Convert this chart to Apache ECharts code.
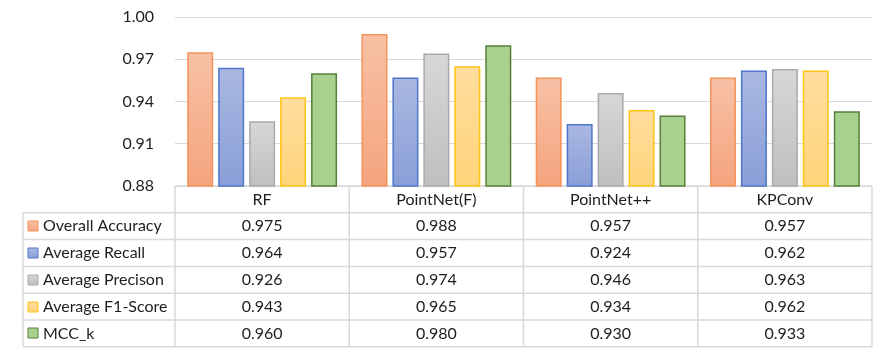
<!DOCTYPE html>
<html>
<head>
<meta charset="utf-8">
<script src="https://cdn.jsdelivr.net/npm/echarts@6/dist/echarts.min.js"></script>
<style>
  html, body { margin: 0; padding: 0; background: #fff; }
  #chart { width: 886px; height: 354px; }
</style>
</head>
<body>
<div id="chart"></div>
<script>
// 数据
const models = ['RF', 'PointNet(F)', 'PointNet++', 'KPConv']
const metrics = ['Overall Accuracy', 'Average Recall', 'Average Precison', 'Average F1-Score', 'MCC_k']
const overallAccuracy = [0.975, 0.988, 0.957, 0.957]
const averageRecall = [0.964, 0.957, 0.924, 0.962]
const averagePrecison = [0.926, 0.974, 0.946, 0.963]
const averageF1 = [0.943, 0.965, 0.934, 0.962]
const mccK = [0.960, 0.980, 0.930, 0.933]
const values = [overallAccuracy, averageRecall, averagePrecison, averageF1, mccK]

// 颜色：上浅下深 + 边框
const colors = [
  { top: '#f8c1a5', bottom: '#f4a47e', border: '#f4935a' },
  { top: '#aab8e1', bottom: '#8a9fd8', border: '#4f76c8' },
  { top: '#d7d7d7', bottom: '#bfbfbf', border: '#aaaaaa' },
  { top: '#ffdd9e', bottom: '#ffd47a', border: '#ffc414' },
  { top: '#a9d18e', bottom: '#a9d18e', border: '#577f3c' }
]

// 布局
const gridLeft = 175
const gridRight = 872
const gridTop = 17
const plotBottom = 186
const rowH = 26.8
const tableLeft = 23
const lineColor = '#d9d9d9'
const font = 'Lato, "Open Sans", sans-serif'
const textColor = '#1e1e1e'
const fontSize = 16

function grad(c) {
  return new echarts.graphic.LinearGradient(0, 0, 0, 1, [
    { offset: 0, color: c.top },
    { offset: 1, color: c.bottom }
  ])
}

const series = metrics.map(function (name, i) {
  return {
    name: name,
    type: 'bar',
    data: values[i],
    barGap: '19%',
    barCategoryGap: '14%',
    itemStyle: { color: grad(colors[i]), borderColor: colors[i].border, borderWidth: 1.5 },
    emphasis: { disabled: true }
  }
})

// 表格
const colW = (gridRight - gridLeft) / models.length
const tableBottom = plotBottom + rowH * (metrics.length + 1)
const graphic = []
function hline(x1, x2, y) {
  graphic.push({ type: 'line', silent: true, shape: { x1: x1, y1: y, x2: x2, y2: y },
    style: { stroke: lineColor, lineWidth: 1.5 } })
}
function vline(x, y1, y2) {
  graphic.push({ type: 'line', silent: true, shape: { x1: x, y1: y1, x2: x, y2: y2 },
    style: { stroke: lineColor, lineWidth: 1.5 } })
}
hline(gridLeft, gridRight, plotBottom)
for (let r = 1; r <= metrics.length + 1; r++) {
  hline(tableLeft, gridRight, plotBottom + rowH * r)
}
vline(tableLeft, plotBottom + rowH, tableBottom)
for (let c = 0; c <= models.length; c++) {
  vline(gridLeft + colW * c, plotBottom, tableBottom)
}
models.forEach(function (m, c) {
  graphic.push({ type: 'text', silent: true, x: gridLeft + colW * (c + 0.5), y: plotBottom + rowH / 2,
    style: { text: m, font: fontSize + 'px ' + font, fill: textColor, align: 'center', verticalAlign: 'middle' } })
})
metrics.forEach(function (name, r) {
  const cy = plotBottom + rowH * (r + 1.5)
  graphic.push({ type: 'rect', silent: true, shape: { x: 28, y: Math.round(cy) - 5, width: 10, height: 10 },
    style: { fill: grad(colors[r]), stroke: colors[r].border, lineWidth: 1 } })
  graphic.push({ type: 'text', silent: true, x: 43, y: cy,
    style: { text: name, font: fontSize + 'px ' + font, fill: textColor, align: 'left', verticalAlign: 'middle' } })
  values[r].forEach(function (v, c) {
    graphic.push({ type: 'text', silent: true, x: gridLeft + colW * (c + 0.5), y: cy,
      style: { text: v.toFixed(3), font: fontSize + 'px ' + font, fill: textColor, align: 'center', verticalAlign: 'middle' } })
  })
})

const myChart = echarts.init(document.getElementById('chart'), null, { renderer: 'canvas' })
myChart.setOption({
  animation: false,
  backgroundColor: '#fff',
  grid: { left: gridLeft, right: 886 - gridRight, top: gridTop, bottom: 354 - plotBottom, containLabel: false },
  xAxis: {
    type: 'category',
    data: models,
    axisLine: { show: false },
    axisTick: { show: false },
    axisLabel: { show: false }
  },
  yAxis: {
    type: 'value',
    min: 0.88,
    max: 1.0,
    interval: 0.03,
    axisLine: { show: false },
    axisTick: { show: false },
    axisLabel: { margin: 21, fontSize: fontSize, fontFamily: font, color: textColor,
      formatter: function (v) { return v.toFixed(2) } },
    splitLine: { lineStyle: { color: lineColor, width: 1.2 } }
  },
  series: series,
  graphic: graphic
})
</script>
</body>
</html>
